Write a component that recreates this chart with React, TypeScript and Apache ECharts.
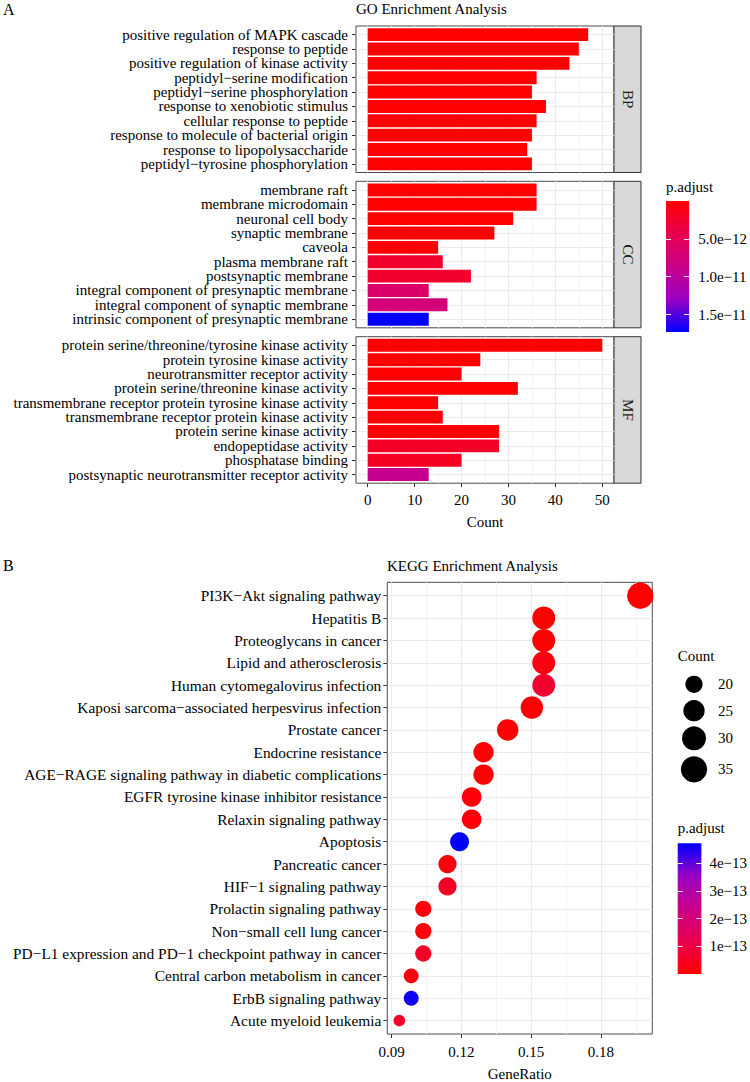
import React, { useEffect, useRef } from "react";
import * as echarts from "echarts";

// ---- GO enrichment (Count, p.adjust) per ontology ----
const bpTerms = [
  "positive regulation of MAPK cascade",
  "response to peptide",
  "positive regulation of kinase activity",
  "peptidyl\u2212serine modification",
  "peptidyl\u2212serine phosphorylation",
  "response to xenobiotic stimulus",
  "cellular response to peptide",
  "response to molecule of bacterial origin",
  "response to lipopolysaccharide",
  "peptidyl\u2212tyrosine phosphorylation",
];
const bpCounts = [47, 45, 43, 36, 35, 38, 36, 35, 34, 35];
const bpPadj = [1.2e-19, 3.5e-19, 8.1e-18, 2.7e-16, 6.3e-16, 4.4e-15, 7.9e-15, 1.6e-14, 2.3e-14, 3.8e-14];

const ccTerms = [
  "membrane raft",
  "membrane microdomain",
  "neuronal cell body",
  "synaptic membrane",
  "caveola",
  "plasma membrane raft",
  "postsynaptic membrane",
  "integral component of presynaptic membrane",
  "integral component of synaptic membrane",
  "intrinsic component of presynaptic membrane",
];
const ccCounts = [36, 36, 31, 27, 15, 16, 22, 13, 17, 13];
const ccPadj = [9.6e-16, 1.4e-15, 2.2e-14, 8.8e-14, 4.1e-13, 2.4e-12, 2.5e-12, 6.2e-12, 7.4e-12, 1.73e-11];

const mfTerms = [
  "protein serine/threonine/tyrosine kinase activity",
  "protein tyrosine kinase activity",
  "neurotransmitter receptor activity",
  "protein serine/threonine kinase activity",
  "transmembrane receptor protein tyrosine kinase activity",
  "transmembrane receptor protein kinase activity",
  "protein serine kinase activity",
  "endopeptidase activity",
  "phosphatase binding",
  "postsynaptic neurotransmitter receptor activity",
];
const mfCounts = [50, 24, 20, 32, 15, 16, 28, 28, 20, 13];
const mfPadj = [3.3e-18, 1.9e-15, 6.0e-15, 8.4e-15, 9.7e-14, 1.5e-13, 2.2e-13, 2.1e-12, 1.8e-12, 9.0e-12];

const ontologies = ["BP", "CC", "MF"];
const goCountTicks = [0, 10, 20, 30, 40, 50];
const goCountMinorTicks = [5, 15, 25, 35, 45];
const goPadjTicks = [5e-12, 1e-11, 1.5e-11];

// ---- KEGG enrichment ----
const keggTerms = [
  "PI3K\u2212Akt signaling pathway",
  "Hepatitis B",
  "Proteoglycans in cancer",
  "Lipid and atherosclerosis",
  "Human cytomegalovirus infection",
  "Kaposi sarcoma\u2212associated herpesvirus infection",
  "Prostate cancer",
  "Endocrine resistance",
  "AGE\u2212RAGE signaling pathway in diabetic complications",
  "EGFR tyrosine kinase inhibitor resistance",
  "Relaxin signaling pathway",
  "Apoptosis",
  "Pancreatic cancer",
  "HIF\u22121 signaling pathway",
  "Prolactin signaling pathway",
  "Non\u2212small cell lung cancer",
  "PD\u2212L1 expression and PD\u22121 checkpoint pathway in cancer",
  "Central carbon metabolism in cancer",
  "ErbB signaling pathway",
  "Acute myeloid leukemia",
];
const keggGeneRatio = [
  0.1969, 0.1554, 0.1554, 0.1554, 0.1554, 0.1503, 0.1399, 0.1295, 0.1295, 0.1244,
  0.1244, 0.1192, 0.114, 0.114, 0.1036, 0.1036, 0.1036, 0.0984, 0.0984, 0.0933,
];
const keggCounts = [38, 30, 30, 30, 30, 29, 27, 25, 25, 24, 24, 23, 22, 22, 20, 20, 20, 19, 19, 18];
const keggPadj = [
  2.4e-17, 1.6e-15, 3.1e-15, 2.6e-14, 7.0e-14, 9.5e-15, 1.2e-15, 4.8e-15, 6.3e-15, 1.1e-14,
  1.4e-14, 4.72e-13, 1.9e-14, 5.6e-14, 1.7e-14, 2.0e-14, 5.8e-14, 2.2e-14, 4.6e-13, 6.0e-14,
];
const keggRatioTicks = [0.09, 0.12, 0.15, 0.18];
const keggRatioMinorTicks = [0.105, 0.135, 0.165, 0.195];
const keggPadjTicks = [1e-13, 2e-13, 3e-13, 4e-13];
const countLegendValues = [20, 25, 30, 35];

// red -> blue ramp (interpolated in Lab)
const RAMP = ["#FF0000", "#E8004F", "#CA0089", "#9A00C3", "#0000FF"];

const FONT = '"Liberation Serif", "Times New Roman", serif';
const GRID_LINE = "#EBEBEB";
const MINOR_LINE = "#F3F3F3";
const BORDER = "#4a4a4a";

// layout
const GO_LEFT = 356;
const GO_WIDTH = 258;
const GO_TOPS = [26, 181.3, 336.7];
const GO_HEIGHT = 146.5;
const STRIP_W = 27;
const KEGG = { left: 387.3, top: 582.3, width: 265, height: 456.7 };
const GO_BAR = { left: 666, top: 201, width: 26.3, height: 131 };
const KEGG_BAR = { left: 677.7, top: 843.3, width: 25.6, height: 130.7 };
const COUNT_KEY_Y = [684.3, 710.7, 738.3, 769.3];
const COUNT_KEY_X = 694;

const expand = (lo: number, hi: number, f = 0.05) => {
  const d = (hi - lo) * f;
  return [lo - d, hi + d];
};

const minus = (s: string) => s.replace(/-/g, "\u2212");

export default function App() {
  const ref = useRef<HTMLDivElement>(null);

  useEffect(() => {
    if (!ref.current) return;
    const chart = echarts.init(ref.current, undefined, { renderer: "svg" });

    const goTerms = [bpTerms, ccTerms, mfTerms];
    const goCounts = [bpCounts, ccCounts, mfCounts];
    const goPadj = [bpPadj, ccPadj, mfPadj];
    const allGoCounts = goCounts.flat();
    const allGoPadj = goPadj.flat();
    const [goXMin, goXMax] = expand(0, Math.max(...allGoCounts));
    const goPMin = Math.min(...allGoPadj);
    const goPMax = Math.max(...allGoPadj);

    const [kXMin, kXMax] = expand(Math.min(...keggGeneRatio), Math.max(...keggGeneRatio));
    const kPMin = Math.min(...keggPadj);
    const kPMax = Math.max(...keggPadj);
    const cMin = Math.min(...keggCounts);
    const cMax = Math.max(...keggCounts);
    const dotSize = (c: number) => 2.94 * (3 + 5 * Math.sqrt((c - cMin) / (cMax - cMin))) + 2.8;

    const rowIdx = (n: number) => Array.from({ length: n }, (_, i) => i);

    const textStyle = { fontFamily: FONT, fontSize: 15, color: "#000" };
    const noLine = { show: false, onZero: false };

    const grids: any[] = [
      ...GO_TOPS.map((top) => ({
        left: GO_LEFT, top, width: GO_WIDTH, height: GO_HEIGHT,
        show: true, borderColor: BORDER, borderWidth: 1, backgroundColor: "#fff",
      })),
      { ...KEGG, show: true, borderColor: BORDER, borderWidth: 1, backgroundColor: "#fff" },
      { ...GO_BAR },
      { ...KEGG_BAR },
    ];

    const majorX = (gridIndex: number, min: number, max: number, ticks: number[], showLabels: boolean, name: string, margin: number, nameGap: number) => ({
      type: "value", gridIndex, min, max, position: "bottom",
      axisLine: noLine,
      axisTick: { show: showLabels, customValues: ticks, length: 4, lineStyle: { color: "#333" } },
      axisLabel: {
        show: showLabels, customValues: ticks, margin, ...textStyle,
        showMinLabel: true, showMaxLabel: true, hideOverlap: false,
        formatter: (v: number) => String(+v.toFixed(4)),
      },
      splitLine: { show: true, lineStyle: { color: GRID_LINE, width: 1 } },
      name: showLabels ? name : "",
      nameLocation: "middle", nameGap, nameTextStyle: textStyle,
    });
    const minorX = (gridIndex: number, min: number, max: number, ticks: number[]) => ({
      type: "value", gridIndex, min, max, position: "top",
      axisLine: noLine,
      axisTick: { show: false, customValues: ticks },
      axisLabel: { show: false, customValues: ticks },
      splitLine: { show: true, lineStyle: { color: MINOR_LINE, width: 1 } },
    });

    const xAxes: any[] = [
      majorX(0, goXMin, goXMax, goCountTicks, false, "Count", 9, 31),
      majorX(1, goXMin, goXMax, goCountTicks, false, "Count", 9, 31),
      majorX(2, goXMin, goXMax, goCountTicks, true, "Count", 9, 31),
      majorX(3, kXMin, kXMax, keggRatioTicks, true, "GeneRatio", 10, 32),
      minorX(0, goXMin, goXMax, goCountMinorTicks),
      minorX(1, goXMin, goXMax, goCountMinorTicks),
      minorX(2, goXMin, goXMax, goCountMinorTicks),
      minorX(3, kXMin, kXMax, keggRatioMinorTicks),
      { type: "value", gridIndex: 4, min: 0, max: 1, show: false },
      { type: "value", gridIndex: 5, min: 0, max: 1, show: false },
    ];

    // term axes: rows sit at integer positions with 0.6 padding at each end.
    // Tightly packed rows are labelled through two coincident axes (even / odd rows)
    // so neighbouring labels never get culled as overlapping.
    const catY = (gridIndex: number, terms: string[], margin: number, labelRows: number[], primary: boolean, fontSize = 15) => ({
      type: "value", gridIndex, min: -0.6, max: terms.length - 0.4, inverse: true, position: "left",
      axisLine: noLine,
      axisTick: {
        show: primary, customValues: primary ? rowIdx(terms.length) : labelRows,
        length: 4, lineStyle: { color: "#333" },
      },
      axisLabel: {
        customValues: labelRows, margin, ...textStyle, fontSize,
        showMinLabel: true, showMaxLabel: true, hideOverlap: false,
        formatter: (v: number) => terms[Math.round(v)] ?? "",
      },
      splitLine: { show: primary, lineStyle: { color: GRID_LINE, width: 1 } },
    });
    const evenRows = (n: number) => rowIdx(n).filter((i) => i % 2 === 0);
    const oddRows = (n: number) => rowIdx(n).filter((i) => i % 2 === 1);

    const barY = (gridIndex: number, min: number, max: number, ticks: number[], inverse: boolean, position: string, fmt: (v: number) => string, showLabel: boolean, margin: number) => ({
      type: "value", gridIndex, min, max, inverse, position, z: 10,
      axisLine: noLine,
      axisTick: { show: true, inside: true, customValues: ticks, length: 5, lineStyle: { color: "#fff", width: 1 } },
      axisLabel: {
        show: showLabel, customValues: ticks, margin, ...textStyle,
        showMinLabel: true, showMaxLabel: true, hideOverlap: false, formatter: fmt,
      },
      splitLine: { show: false },
    });

    const goFmt = (v: number) => minus(v.toExponential(1));
    const kFmt = (v: number) => minus(v.toExponential(0));

    const yAxes: any[] = [
      ...goTerms.map((t, g) => catY(g, t, 8, evenRows(t.length), true)),
      catY(3, keggTerms, 6, rowIdx(keggTerms.length), true, 15.4),
      barY(4, goPMin, goPMax, goPadjTicks, true, "right", goFmt, true, 9),
      barY(4, goPMin, goPMax, goPadjTicks, true, "left", goFmt, false, 8),
      barY(5, kPMin, kPMax, keggPadjTicks, false, "right", kFmt, true, 8),
      barY(5, kPMin, kPMax, keggPadjTicks, false, "left", kFmt, false, 8),
      ...goTerms.map((t, g) => catY(g, t, 8, oddRows(t.length), false)),
    ];

    const barSeries = goCounts.map((counts, g) => ({
      type: "custom",
      xAxisIndex: g,
      yAxisIndex: g,
      data: counts.map((c, i) => [c, i, goPadj[g][i]]),
      encode: { x: 0, y: 1 },
      renderItem: (_p: any, api: any) => {
        const idx = api.value(1);
        const start = api.coord([0, idx]);
        const end = api.coord([api.value(0), idx]);
        const band = api.size([0, 1])[1] * 0.9;
        return {
          type: "rect",
          shape: { x: start[0], y: start[1] - band / 2, width: end[0] - start[0], height: band },
          style: { fill: api.visual("color") },
        };
      },
    }));

    const gradientBar = (xAxisIndex: number, yAxisIndex: number, value: number, topToBottom: string[]) => ({
      type: "custom",
      xAxisIndex, yAxisIndex,
      silent: true,
      data: [[0.5, value]],
      renderItem: (params: any) => {
        const cs = params.coordSys;
        return {
          type: "rect",
          shape: { x: cs.x, y: cs.y, width: cs.width, height: cs.height },
          style: {
            fill: new echarts.graphic.LinearGradient(
              0, 0, 0, 1,
              topToBottom.map((color, i) => ({ offset: i / (topToBottom.length - 1), color }))
            ),
          },
        };
      },
    });

    const series: any[] = [
      ...barSeries,
      {
        type: "scatter",
        xAxisIndex: 3,
        yAxisIndex: 3,
        data: keggGeneRatio.map((r, i) => [r, i, keggCounts[i], keggPadj[i]]),
        symbol: "circle",
        symbolSize: (v: number[]) => dotSize(v[2]),
        itemStyle: { opacity: 1 },
      },
      gradientBar(8, 4, goPMin, RAMP),
      gradientBar(9, 6, kPMin, [...RAMP].reverse()),
    ];

    const label = (text: string, x: number, y: number, extra: any = {}) => ({
      type: "text", x, y, silent: true,
      style: { text, font: `15px ${FONT}`, fill: "#000", align: "left", verticalAlign: "middle", ...extra },
    });

    const strips = GO_TOPS.flatMap((top, i) => [
      {
        type: "rect", silent: true,
        shape: { x: GO_LEFT + GO_WIDTH, y: top, width: STRIP_W, height: GO_HEIGHT },
        style: { fill: "#D9D9D9", stroke: "#333", lineWidth: 1 },
      },
      {
        type: "text", silent: true,
        x: GO_LEFT + GO_WIDTH + STRIP_W / 2, y: top + GO_HEIGHT / 2, rotation: -Math.PI / 2,
        style: { text: ontologies[i], font: `15px ${FONT}`, fill: "#1A1A1A", align: "center", verticalAlign: "middle" },
      },
    ]);

    const countKeys = countLegendValues.flatMap((c, i) => [
      {
        type: "circle", silent: true,
        shape: { cx: COUNT_KEY_X, cy: COUNT_KEY_Y[i], r: dotSize(c) / 2 + 0.5 },
        style: { fill: "#000" },
      },
      label(String(c), 718, COUNT_KEY_Y[i]),
    ]);

    chart.setOption({
      animation: false,
      backgroundColor: "#fff",
      textStyle: { fontFamily: FONT },
      grid: grids,
      xAxis: xAxes,
      yAxis: yAxes,
      visualMap: [
        {
          type: "continuous", show: false, seriesIndex: [0, 1, 2], dimension: 2,
          min: goPMin, max: goPMax, inRange: { color: RAMP },
        },
        {
          type: "continuous", show: false, seriesIndex: 3, dimension: 3,
          min: kPMin, max: kPMax, inRange: { color: RAMP },
        },
      ],
      series,
      graphic: [
        label("A", 3, 9, { font: `16px ${FONT}` }),
        label("GO Enrichment Analysis", 356, 9),
        label("B", 3, 565, { font: `16px ${FONT}` }),
        label("KEGG Enrichment Analysis", 387, 566),
        ...strips,
        label("p.adjust", 666, 187),
        label("Count", 677.7, 656),
        ...countKeys,
        label("p.adjust", 677.7, 828),
      ],
    });

    return () => chart.dispose();
  }, []);

  return (
    <div
      ref={ref}
      style={{ position: "absolute", left: 0, top: 0, width: 750, height: 1082, background: "#fff" }}
    />
  );
}
